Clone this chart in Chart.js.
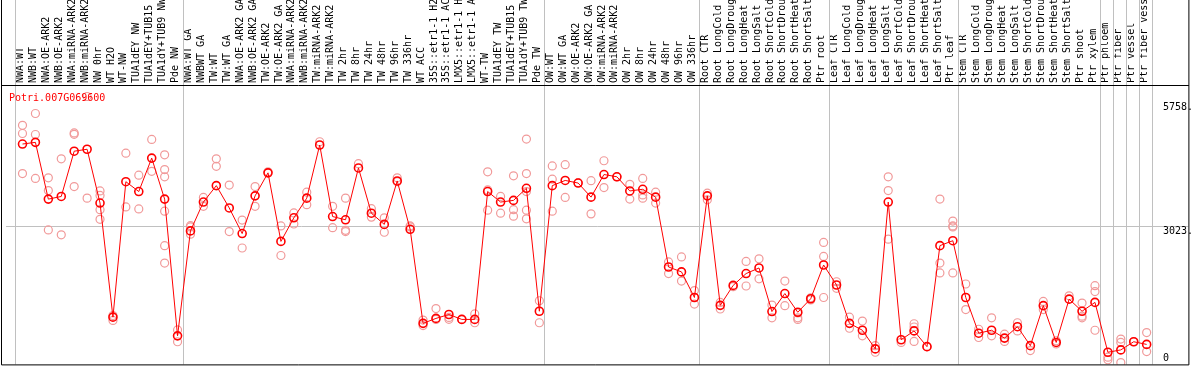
<!DOCTYPE html>
<html>
<head>
<meta charset="utf-8">
<script src="https://cdn.jsdelivr.net/npm/chart.js@4/dist/chart.umd.min.js"></script>
<style>
  html, body { margin: 0; padding: 0; background: #fff; }
  #wrap { width: 1194px; height: 370px; }
</style>
</head>
<body>
<div id="wrap"><canvas id="chart" width="1194" height="370"></canvas></div>
<script>
// probe values
const geneName = 'Potri.007G069600';

const categories = [
  'NWA:WT','NWB:WT','NWA:OE-ARK2','NWB:OE-ARK2','NWA:miRNA-ARK2','NWB:miRNA-ARK2','NW 0hr','WT H2O','WT-NW',
  'TUA1dEY NW','TUA1dEY+TUB15 NW','TUA1dY+TUB9 NW','Pde NW',
  'NWA:WT GA','NWBWT GA','TW:WT','TW:WT GA','NWA:OE-ARK2 GA','NWB:OE-ARK2 GA','TW:OE-ARK2','TW:OE-ARK2 GA',
  'NWA:miRNA-ARK2 GA','NWB:miRNA-ARK2 GA','TW:miRNA-ARK2','TW:miRNA-ARK2 GA',
  'TW 2hr','TW 8hr','TW 24hr','TW 48hr','TW 96hr','TW 336hr','WT ACC',
  '35S::etr1-1 H2O','35S::etr1-1 ACC','LMX5::etr1-1 H2O','LMX5::etr1-1 ACC','WT-TW',
  'TUA1dEY TW','TUA1dEY+TUB15 TW','TUA1dY+TUB9 TW','Pde TW',
  'OW:WT','OW:WT GA','OW:OE-ARK2','OW:OE-ARK2 GA','OW:miRNA-ARK2','OW:miRNA-ARK2 GA',
  'OW 2hr','OW 8hr','OW 24hr','OW 48hr','OW 96hr','OW 336hr',
  'Root CTR','Root LongCold','Root LongDrought','Root LongHeat','Root LongSalt',
  'Root ShortCold','Root ShortDrought','Root ShortHeat','Root ShortSalt','Ptr root',
  'Leaf CTR','Leaf LongCold','Leaf LongDrought','Leaf LongHeat','Leaf LongSalt',
  'Leaf ShortCold','Leaf ShortDrought','Leaf ShortHeat','Leaf ShortSalt','Ptr leaf',
  'Stem CTR','Stem LongCold','Stem LongDrought','Stem LongHeat','Stem LongSalt',
  'Stem ShortCold','Stem ShortDrought','Stem ShortHeat','Stem ShortSalt','Ptr shoot',
  'Ptr xylem','Ptr phloem','Ptr fiber','Ptr vessel','Ptr fiber vessel'
];

const means = [
  4844,4881,3623,3682,4685,4728,3536,1007,4009,3791,4532,3623,593,
  2919,3558,3922,3427,2860,3695,4205,2686,3209,3645,4822,3237,
  3165,4314,3311,3063,4026,2954,870,979,1066,957,957,3791,3558,3595,3863,1138,
  3922,4037,3979,3667,4168,4118,3804,3841,3667,2119,2010,1443,
  3695,1269,1711,1973,2097,1131,1530,1116,1415,2163,
  1720,870,717,303,3558,506,702,353,2592,2701,
  1443,652,717,543,796,375,1262,447,1406,1138,
  1334,229,281,462,403
];

const replicates = [
  [5258,5077,4190],[5520,5055,4081],[4096,3813,2941],[4517,2832],[5090,5060,3900],[5897,3645],
  [3804,3704,3390,3176],[1044,935],[4641,3449],[4153,3405],[4946,4240],[4604,4277,4118,3355,2592,2206],[724,462],
  [3006,2845,3035],[3660,3464],[4517,4349],[3935,2904],[3159,2540],[3900,3464],[4227],[3028,2374],
  [3318,3072],[3776,3499],[4894],[3464,2991],
  [3645,2932,2904],[4408],[3412,3224],[3209,2889],[4096,4009],[3028,3006],[942,820],
  [1197,957],[1000,960],[957],[1079,883],[4227,3826,3377],
  [3682,3311],[4140,3390,3246],[4953,4190,3791,3377,3187],[1371,883],
  [4358,4066,3355],[4386,3660],[3987],[4031,3296],[4473,3878],[4118],
  [3950,3623],[4081,3717,3645],[3776,3536],[2232,1973],[2341,1807],[1596,1297],
  [3754,3608],[1188,1334],[1683],[2243,1698],[2300,1857],
  [1275,992],[1807,1262],[992,957,1100],[1437,1390],[2664,2352,1443],
  [1792,1646],[1007,761],[920,593],[375,229],[4118,3813,2736],[447],
  [861,789,469],[353],[3623,2206,1988],[3137,3028,3006,1988],
  [1742,1175],[739,556],[992,593],[630,469],[883,702],[266],
  [1356,1175],[484,412],[1480],[1319,1029,992],
  [1705,1574,717],[120,63],[521,447,0],[462],[665,244]
];

// boundaries between sample groups (after these indices)
const groupEnds = [-1, 12, 40, 52, 62, 72, 83, 84, 85, 86, 87];

const yTicks = [0, 3023, 5758];
const yTickLabels = ['0', '3023.', '5758.'];

const FONT = '"DejaVu Sans Mono", monospace';

const meanPoints = means.map((v, i) => ({ x: i, y: v }));
const repPoints = [];
replicates.forEach((arr, i) => arr.forEach(v => repPoints.push({ x: i, y: v })));

// frame, separators, y labels, gene name
const decor = {
  id: 'decor',
  beforeDatasetsDraw(chart) {
    const { ctx, chartArea: ca, scales: { x } } = chart;
    ctx.save();
    ctx.strokeStyle = '#c0c0c0';
    ctx.lineWidth = 1;
    groupEnds.forEach(e => {
      const px = Math.round(x.getPixelForValue(e + 0.5) - 1.5) + 0.5;
      ctx.beginPath();
      ctx.moveTo(px, 0);
      ctx.lineTo(px, ca.bottom);
      ctx.stroke();
    });
    ctx.restore();
  },
  afterDraw(chart) {
    const { ctx, chartArea: ca, scales: { y } } = chart;
    ctx.save();
    ctx.strokeStyle = '#000';
    ctx.lineWidth = 1;
    ctx.beginPath();
    ctx.moveTo(1.5, 0); ctx.lineTo(1.5, ca.bottom + 0.5);
    ctx.lineTo(ca.right + 0.5, ca.bottom + 0.5); ctx.lineTo(ca.right + 0.5, 0);
    ctx.moveTo(1.5, ca.top - 0.5); ctx.lineTo(ca.right + 0.5, ca.top - 0.5);
    ctx.stroke();

    ctx.font = '10px ' + FONT;
    ctx.fillStyle = '#000';
    ctx.textAlign = 'left';
    ctx.textBaseline = 'alphabetic';
    yTicks.forEach((v, k) => {
      const py = Math.min(y.getPixelForValue(v) + 7.5, ca.bottom - 3.5);
      ctx.fillText(yTickLabels[k], 1163, py);
    });

    ctx.fillStyle = '#ff0000';
    ctx.fillText(geneName, 9, 101);
    ctx.restore();
  }
};

new Chart(document.getElementById('chart'), {
  type: 'line',
  data: {
    datasets: [
      {
        label: 'mean',
        data: meanPoints,
        borderColor: '#ff0000',
        borderWidth: 1,
        pointRadius: 4,
        pointBorderWidth: 1.6,
        pointBorderColor: '#ff0000',
        pointBackgroundColor: 'rgba(0,0,0,0)',
        tension: 0,
        order: 1
      },
      {
        label: 'replicates',
        data: repPoints,
        showLine: false,
        pointRadius: 4,
        pointBorderWidth: 1.2,
        pointBorderColor: '#f19a9a',
        pointBackgroundColor: 'rgba(0,0,0,0)',
        order: 2
      }
    ]
  },
  options: {
    responsive: false,
    animation: false,
    layout: { padding: { left: 2, right: 2, top: 0, bottom: 1 } },
    plugins: { legend: { display: false }, tooltip: { enabled: false }, title: { display: false } },
    scales: {
      x: {
        type: 'linear',
        position: 'top',
        min: -1.3077,
        max: 90.2308,
        afterBuildTicks: s => { s.ticks = categories.map((c, i) => ({ value: i })); },
        afterFit: s => { s.height = 86; },
        grid: { display: false, drawTicks: false },
        border: { display: false },
        ticks: {
          autoSkip: false,
          minRotation: 90,
          maxRotation: 90,
          padding: 3,
          labelOffset: 10,
          color: '#000',
          font: { family: FONT, size: 10 },
          callback: v => categories[v]
        }
      },
      y: {
        position: 'left',
        min: -40,
        max: 6130,
        afterBuildTicks: s => { s.ticks = yTicks.map(v => ({ value: v })); },
        afterFit: s => { s.width = 0; },
        grid: {
          drawTicks: false,
          color: c => (c.tick && c.tick.value === 3023) ? '#c0c0c0' : 'rgba(0,0,0,0)'
        },
        border: { display: false },
        ticks: { display: false }
      }
    }
  },
  plugins: [decor]
});
</script>
</body>
</html>
